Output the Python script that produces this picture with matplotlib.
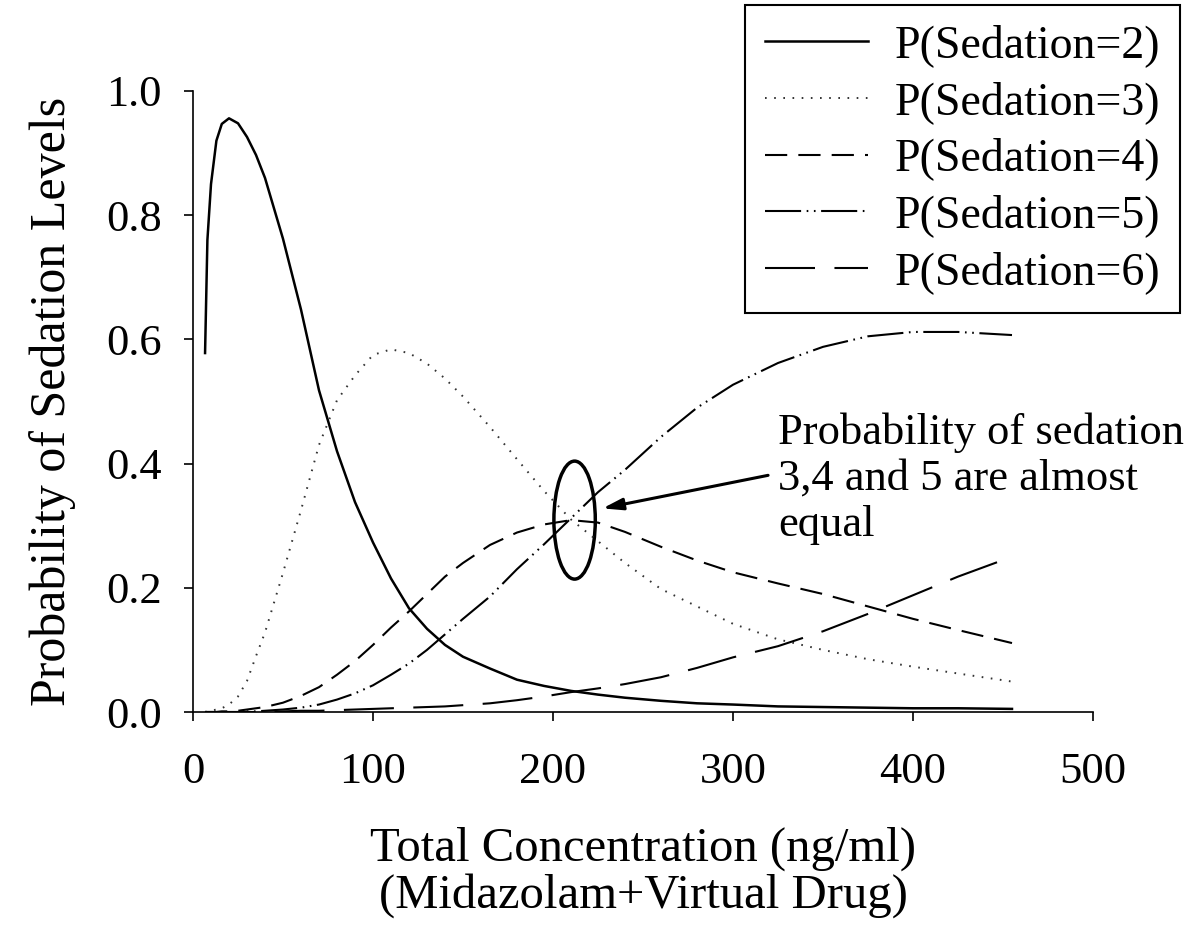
import matplotlib
matplotlib.use('Agg')
import matplotlib.pyplot as plt
from matplotlib.patches import Ellipse

plt.rcParams['font.family'] = ['Liberation Serif', 'DejaVu Serif']
plt.rcParams['lines.scale_dashes'] = False

# concentration grid (ng/ml) where the curves were read
conc = [6.7, 8, 10, 13, 16, 20, 25, 30, 35, 40, 50, 60, 70, 80, 90, 100, 110, 120,
        130, 140, 150, 165, 180, 195, 210, 225, 240, 260, 280, 300, 325, 350, 375,
        400, 425, 455]

p_sed2 = [0.578, 0.76, 0.85, 0.92, 0.947, 0.956, 0.948, 0.926, 0.897, 0.86, 0.762,
          0.648, 0.518, 0.42, 0.338, 0.273, 0.215, 0.167, 0.134, 0.108, 0.089, 0.07,
          0.052, 0.042, 0.034, 0.028, 0.023, 0.018, 0.014, 0.012, 0.009, 0.008,
          0.007, 0.006, 0.006, 0.005]
p_sed3 = [0.0, 0.001, 0.002, 0.004, 0.006, 0.012, 0.025, 0.05, 0.09, 0.128, 0.224,
          0.325, 0.43, 0.502, 0.542, 0.575, 0.584, 0.578, 0.561, 0.537, 0.508, 0.459,
          0.407, 0.356, 0.31, 0.275, 0.24, 0.198, 0.17, 0.142, 0.117, 0.1, 0.085,
          0.073, 0.062, 0.049]
p_sed4 = [0.0, 0.0, 0.0, 0.0, 0.001, 0.001, 0.002, 0.004, 0.006, 0.008, 0.015,
          0.026, 0.04, 0.06, 0.082, 0.108, 0.136, 0.162, 0.19, 0.218, 0.24, 0.269,
          0.289, 0.302, 0.309, 0.305, 0.29, 0.266, 0.244, 0.225, 0.207, 0.19, 0.17,
          0.15, 0.132, 0.111]
p_sed5 = [0.0, 0.0, 0.0, 0.0, 0.0, 0.0, 0.0, 0.001, 0.001, 0.002, 0.004, 0.007,
          0.012, 0.02, 0.03, 0.043, 0.06, 0.078, 0.1, 0.125, 0.15, 0.186, 0.23,
          0.27, 0.312, 0.354, 0.39, 0.443, 0.49, 0.527, 0.562, 0.588, 0.605, 0.612,
          0.612, 0.607]
p_sed6 = [0.0, 0.0, 0.0, 0.0, 0.0, 0.0, 0.0, 0.0, 0.0, 0.0, 0.001, 0.002, 0.002,
          0.003, 0.004, 0.005, 0.006, 0.007, 0.008, 0.009, 0.011, 0.014, 0.019,
          0.025, 0.032, 0.038, 0.045, 0.056, 0.071, 0.088, 0.106, 0.13, 0.158,
          0.188, 0.218, 0.25]

labels = ['P(Sedation=2)', 'P(Sedation=3)', 'P(Sedation=4)',
          'P(Sedation=5)', 'P(Sedation=6)']

fig = plt.figure(figsize=(11.98, 9.26), dpi=100)
ax = fig.add_axes([193 / 1198, 1 - 712 / 926, 900 / 1198, 621 / 926])

ax.plot(conc, p_sed2, color='black', lw=1.8, label=labels[0])
ax.plot(conc, p_sed3, color='#333333', lw=1.4, dashes=(1.2, 5.4), label=labels[1])
ax.plot(conc, p_sed4, color='black', lw=1.5, dashes=(16, 8), label=labels[2])
ax.plot(conc, p_sed5, color='black', lw=1.5,
        dashes=(26, 4, 1.2, 4, 1.2, 4), label=labels[3])
ax.plot(conc, p_sed6, color='black', lw=1.5, dashes=(36, 14), label=labels[4])

# annotation: ellipse around the crossing point plus arrow and note
ax.add_patch(Ellipse((212, 0.309), 23, 0.19, fill=False, lw=2.5, color='black'))
ax.annotate('', xy=(226, 0.327), xytext=(321, 0.382),
            arrowprops=dict(arrowstyle='-|>,head_length=1.2,head_width=0.35',
                            lw=2.2, color='black'))
ax.text(325, 0.376, 'Probability of sedation\n3,4 and 5 are almost\nequal',
        fontsize=32, va='center', ha='left', linespacing=1.2)

ax.set_xlim(0, 500)
ax.set_ylim(0, 1.0)
ax.set_xticks([0, 100, 200, 300, 400, 500])
ax.set_yticks([0.0, 0.2, 0.4, 0.6, 0.8, 1.0])
ax.set_yticklabels(['0.0', '0.2', '0.4', '0.6', '0.8', '1.0'])
ax.tick_params(direction='out', length=6.5, width=1.2, labelsize=32)
ax.tick_params(axis='y', pad=16)
ax.tick_params(axis='x', pad=22)
for side in ['top', 'right']:
    ax.spines[side].set_visible(False)
for side in ['left', 'bottom']:
    ax.spines[side].set_linewidth(1.2)

ax.set_xlabel('Total Concentration (ng/ml)\n(Midazolam+Virtual Drug)',
              fontsize=35, linespacing=1.05)
ax.xaxis.set_label_coords(0.5, -0.185)
ax.set_ylabel('Probability of Sedation Levels', fontsize=36)
ax.yaxis.set_label_coords(-0.13, 0.5)

leg = ax.legend(loc='upper right', bbox_to_anchor=(1180 / 1198, 1 - 5 / 926),
                bbox_transform=fig.transFigure, fontsize=33, frameon=True,
                fancybox=False, framealpha=1, edgecolor='black', borderpad=0.42,
                labelspacing=0.3, handlelength=2.25, handletextpad=0.6,
                borderaxespad=0)
leg.get_frame().set_linewidth(1.5)

fig.savefig('out.png', dpi=100)
